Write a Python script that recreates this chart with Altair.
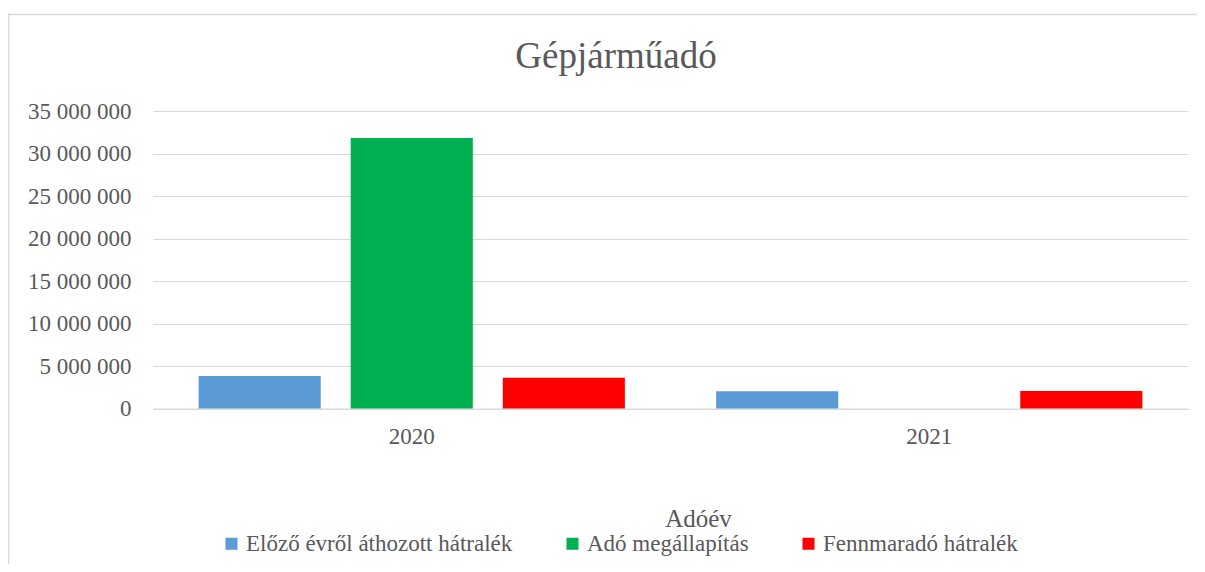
import altair as alt
import pandas as pd

years = ["2020", "2021"]
series = ["Előző évről áthozott hátralék", "Adó megállapítás", "Fennmaradó hátralék"]
colors = ["#5B9BD5", "#00B050", "#FF0000"]
v_elozo = [3820000, 2020000]
v_ado = [31820000, 0]
v_fenn = [3620000, 2060000]
title_text = "Gépjárműadó"

rows = []
for name, vals in zip(series, [v_elozo, v_ado, v_fenn]):
    for y, v in zip(years, vals):
        rows.append({"Adóév": y, "series": name, "value": v})
df = pd.DataFrame(rows)

FONT = "Liberation Serif"
TXT = "#595959"
GRID = "#D9D9D9"

bars = alt.Chart(df).mark_bar().encode(
    x=alt.X("Adóév:N", sort=years,
            scale=alt.Scale(paddingInner=0, paddingOuter=0),
            axis=alt.Axis(title="Adóév", labelAngle=0, ticks=False, tickSize=0,
                          labelPadding=17, labelFontSize=23, labelColor=TXT,
                          labelFont="Times New Roman",
                          domainColor=GRID, domainWidth=1, grid=False,
                          titleFontSize=25, titleColor=TXT, titleFontWeight="normal",
                          titleX=545, titleY=118, titleBaseline="alphabetic", titleAnchor="middle",
                          titleAlign="center")),
    xOffset=alt.XOffset("series:N", sort=series,
                        scale=alt.Scale(paddingInner=0.197, paddingOuter=0.3)),
    y=alt.Y("value:Q", scale=alt.Scale(domain=[0, 35000000], nice=False),
            axis=alt.Axis(title=None, values=[0, 5000000, 10000000, 15000000, 20000000,
                                              25000000, 30000000, 35000000],
                          labelExpr="replace(format(datum.value, ','), regexp(',', 'g'), ' ')",
                          ticks=False, tickSize=0, domain=False, labelPadding=22,
                          labelFontSize=23, labelColor=TXT, labelFont="serif",
                          grid=True, gridColor=GRID, gridWidth=1)),
    color=alt.Color("series:N", sort=series,
                    scale=alt.Scale(domain=series, range=colors),
                    legend=alt.Legend(title=None, orient="none", direction="horizontal",
                                      legendX=67, legendY=421,
                                      symbolType="square", symbolSize=144, symbolStrokeWidth=0,
                                      symbolOpacity=1,
                                      labelFontSize=23, labelColor=TXT,
                                      labelLimit=0, labelOffset=3, columnPadding=48,
                                      labelBaseline="middle")),
)

frame = alt.Chart(pd.DataFrame({"k": [0]})).mark_rect(
    fill=None, stroke=GRID, strokeWidth=1.5
).encode(
    x=alt.value(-144.5), x2=alt.value(1100),
    y=alt.value(-96.5), y2=alt.value(600),
)

title = alt.Chart(pd.DataFrame({"t": [title_text]})).mark_text(
    fontSize=37, color=TXT, align="center", baseline="alphabetic", font=FONT
).encode(
    text="t:N", x=alt.value(463), y=alt.value(-43),
)

chart = alt.layer(frame, bars, title).properties(
    width=1035,
    height=297.5,
    autosize=alt.AutoSizeParams(type="none"),
    padding={"left": 145, "top": 103, "right": 9, "bottom": 155},
).configure(
    background="white", font=FONT,
    style={"guide-label": {"font": FONT}, "guide-title": {"font": FONT}},
).configure_view(stroke=None)

chart.save("out.html", embed_options={"renderer": "svg", "actions": False})
